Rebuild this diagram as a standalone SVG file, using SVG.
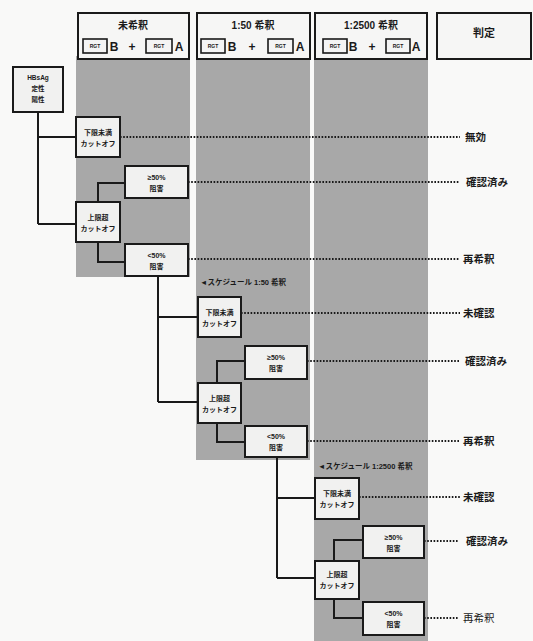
<svg xmlns="http://www.w3.org/2000/svg" width="533" height="641" viewBox="0 0 533 641">
<style>
.bg{fill:#f9f9f8}
.col{fill:#a8a8a8}
.hdr{fill:#f6f6f5;stroke:#1a1a1a;stroke-width:2}
.rgt{fill:#f4f4f4;stroke:#1a1a1a;stroke-width:1.6}
.node{fill:#f1f1f0;stroke:#1a1a1a;stroke-width:2}
.wire{fill:none;stroke:#1a1a1a;stroke-width:2}
.dot{fill:none;stroke:#1a1a1a;stroke-width:2;stroke-dasharray:1.6 1.6}
text{font-family:'Liberation Sans','Noto Sans CJK JP',sans-serif;fill:#1a1a1a}
.h{font-size:10px;font-weight:bold;text-anchor:middle}
.ab{font-size:12px;font-weight:bold;text-anchor:middle}
.tiny{font-size:5px;font-weight:bold;text-anchor:middle}
.n{font-size:7px;font-weight:bold;text-anchor:middle}
.note{font-size:7.5px;font-weight:bold}
.res{font-size:10.5px;font-weight:bold}
</style>
<rect class="bg" x="0" y="0" width="533" height="641"/>
<g id="columns">
<rect class="col" x="76" y="56" width="114" height="221"/>
<rect class="col" x="196" y="56" width="114" height="404"/>
<rect class="col" x="314" y="56" width="114" height="585"/>
</g>
<g id="header-undiluted">
<rect class="hdr" x="78" y="13" width="111" height="46"/>
<text class="h" x="133" y="29">未希釈</text>
<rect class="rgt" x="83" y="39" width="24" height="14"/><text class="tiny" x="95" y="48">RGT</text>
<text class="ab" x="114" y="51">B</text><text class="ab" x="132" y="51">+</text>
<rect class="rgt" x="146" y="39" width="26" height="14"/><text class="tiny" x="159" y="48">RGT</text>
<text class="ab" x="179" y="51">A</text>
</g>
<g id="header-1-50">
<rect class="hdr" x="197" y="13" width="113" height="46"/>
<text class="h" x="253" y="29">1:50 希釈</text>
<rect class="rgt" x="201" y="39" width="24" height="14"/><text class="tiny" x="213" y="48">RGT</text>
<text class="ab" x="232" y="51">B</text><text class="ab" x="252" y="51">+</text>
<rect class="rgt" x="268" y="39" width="25" height="14"/><text class="tiny" x="280.5" y="48">RGT</text>
<text class="ab" x="300" y="51">A</text>
</g>
<g id="header-1-2500">
<rect class="hdr" x="315" y="13" width="112" height="46"/>
<text class="h" x="371" y="29">1:2500 希釈</text>
<rect class="rgt" x="323" y="39" width="24" height="14"/><text class="tiny" x="335" y="48">RGT</text>
<text class="ab" x="353" y="51">B</text><text class="ab" x="372" y="51">+</text>
<rect class="rgt" x="386" y="39" width="24" height="14"/><text class="tiny" x="398" y="48">RGT</text>
<text class="ab" x="416" y="51">A</text>
</g>
<g id="header-judgement">
<rect class="hdr" x="437" y="13" width="94" height="46"/>
<text class="h" x="484" y="37" style="font-size:11px">判定</text>
</g>
<g id="connectors">
<path class="wire" d="M38,112 V224 M38,137 H76 M38,224 H76"/>
<path class="wire" d="M98,202 V183 H125 M98,242 V262 H125"/>
<path class="wire" d="M158,276 V402 M158,317 H198 M158,402 H198"/>
<path class="wire" d="M217,383 V361 H245 M217,423 V442 H245"/>
<path class="wire" d="M277,457 V578 M277,498 H315 M277,578 H315"/>
<path class="wire" d="M334,561 V540 H363 M334,599 V618 H363"/>
<path class="dot" d="M120,137 H460 M188,182 H460 M188,259 H460 M241,313 H460 M307,361 H460 M307,441 H460 M359,497 H460 M424,541 H458 M424,618 H458"/>
</g>
<g id="start"><rect class="node" x="13" y="67" width="50" height="45"/>
<text class="n" x="38" y="80" style="font-size:6.5px">HBsAg</text><text class="n" x="38" y="91" style="font-size:6.5px">定性</text><text class="n" x="38" y="102" style="font-size:6.5px">陽性</text></g>
<g id="a1"><rect class="node" x="76" y="117" width="44" height="40"/><text class="n" x="98" y="135">下限未満</text><text class="n" x="98" y="146">カットオフ</text></g>
<g id="a2"><rect class="node" x="125" y="166" width="63" height="32"/><text class="n" x="156.5" y="180">≥50%</text><text class="n" x="156.5" y="191">阻害</text></g>
<g id="a3"><rect class="node" x="76" y="202" width="44" height="40"/><text class="n" x="98" y="220">上限超</text><text class="n" x="98" y="231">カットオフ</text></g>
<g id="a4"><rect class="node" x="125" y="244" width="63" height="32"/><text class="n" x="156.5" y="258">&lt;50%</text><text class="n" x="156.5" y="269">阻害</text></g>
<text class="note" x="200" y="285">◄スケジュール 1:50 希釈</text>
<g id="b1"><rect class="node" x="198" y="297" width="43" height="40"/><text class="n" x="219.5" y="315">下限未満</text><text class="n" x="219.5" y="326">カットオフ</text></g>
<g id="b2"><rect class="node" x="245" y="346" width="62" height="33"/><text class="n" x="276" y="360">≥50%</text><text class="n" x="276" y="371">阻害</text></g>
<g id="b3"><rect class="node" x="198" y="383" width="43" height="40"/><text class="n" x="219.5" y="401">上限超</text><text class="n" x="219.5" y="412">カットオフ</text></g>
<g id="b4"><rect class="node" x="245" y="426" width="62" height="31"/><text class="n" x="276" y="439">&lt;50%</text><text class="n" x="276" y="450">阻害</text></g>
<text class="note" x="318" y="469">◄スケジュール 1:2500 希釈</text>
<g id="c1"><rect class="node" x="315" y="478" width="44" height="41"/><text class="n" x="337" y="496">下限未満</text><text class="n" x="337" y="507">カットオフ</text></g>
<g id="c2"><rect class="node" x="363" y="526" width="61" height="32"/><text class="n" x="393.5" y="540">≥50%</text><text class="n" x="393.5" y="551">阻害</text></g>
<g id="c3"><rect class="node" x="315" y="561" width="44" height="38"/><text class="n" x="337" y="577">上限超</text><text class="n" x="337" y="588">カットオフ</text></g>
<g id="c4"><rect class="node" x="363" y="602" width="61" height="33"/><text class="n" x="393.5" y="616">&lt;50%</text><text class="n" x="393.5" y="627">阻害</text></g>
<g id="results">
<text class="res" x="465" y="141">無効</text>
<text class="res" x="466" y="186">確認済み</text>
<text class="res" x="463" y="263">再希釈</text>
<text class="res" x="463" y="317">未確認</text>
<text class="res" x="465" y="365">確認済み</text>
<text class="res" x="463" y="445">再希釈</text>
<text class="res" x="463" y="501">未確認</text>
<text class="res" x="466" y="545">確認済み</text>
<text class="res" x="463" y="622" style="font-weight:normal">再希釈</text>
</g>
</svg>
